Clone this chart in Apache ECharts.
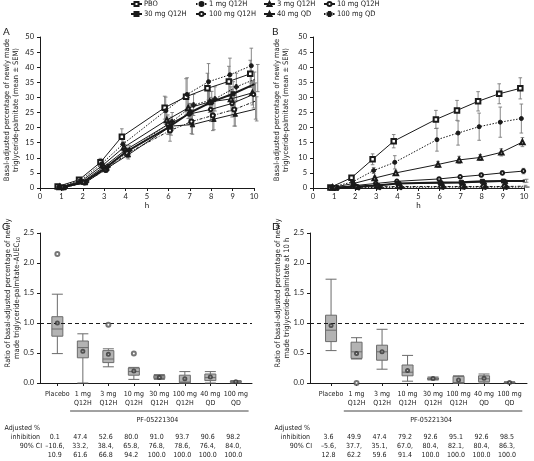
<!DOCTYPE html>
<html><head><meta charset="utf-8">
<script src="https://cdn.jsdelivr.net/npm/echarts@6/dist/echarts.min.js"></script>
<style>html,body{margin:0;padding:0;background:#fff}#c{width:534px;height:461px}</style>
</head><body><div id="c"></div>
<script>
// ---------- DATA ----------
const hours = [1, 2, 3, 4, 6, 7, 8, 9, 10];
const groupNames = ['PBO', '1 mg Q12H', '3 mg Q12H', '10 mg Q12H', '30 mg Q12H', '100 mg Q12H', '40 mg QD', '100 mg QD'];

// Panel A: means
const aPBO   = [0.5, 2.7, 8.5, 17.0, 26.6, 30.2, 33.0, 35.3, 37.8];
const a1mg   = [0.3, 2.4, 8.0, 14.5, 25.6, 31.0, 35.2, 37.5, 40.5];
const a3mg   = [0.3, 2.2, 7.5, 13.5, 22.5, 26.5, 28.5, 29.5, 31.5];
const a10mg  = [0.3, 2.0, 7.0, 12.5, 21.0, 24.5, 26.0, 28.0, 31.0];
const a30mg  = [0.2, 1.9, 6.5, 12.0, 20.2, 25.0, 28.5, 31.2, 34.4];
const a100mg = [0.2, 1.8, 6.0, 11.5, 19.0, 22.0, 24.0, 26.0, 28.8];
const a40qd  = [0.2, 1.8, 6.5, 11.0, 20.5, 21.0, 22.8, 24.5, 26.2];
const a100qd = [0.2, 2.0, 7.0, 12.5, 22.0, 27.5, 29.5, 33.5, 36.4];
// Panel A: SEM
const aPBOse   = [0.2, 0.5, 1.3, 2.6, 3.8, 6.0, 5.0, 5.0, 4.5];
const a1mgse   = [0.2, 0.5, 1.2, 2.2, 4.5, 5.5, 6.0, 5.5, 5.8];
const a3mgse   = [0.2, 0.4, 1.0, 1.8, 3.0, 3.5, 3.5, 4.0, 4.0];
const a10mgse  = [0.1, 0.4, 1.0, 1.8, 3.2, 3.5, 4.0, 4.5, 4.5];
const a30mgse  = [0.1, 0.3, 0.8, 1.5, 2.5, 3.0, 3.5, 4.0, 4.0];
const a100mgse = [0.1, 0.3, 0.8, 1.5, 3.5, 4.0, 5.0, 5.5, 6.0];
const a40qdse  = [0.1, 0.3, 0.8, 1.4, 3.0, 3.2, 3.5, 4.0, 4.0];
const a100qdse = [0.1, 0.3, 0.9, 1.5, 3.0, 3.5, 4.0, 4.5, 4.5];

// Panel B: means
const bPBO   = [0.2, 3.4, 9.5, 15.5, 22.7, 25.7, 28.7, 31.2, 33.0];
const b1mg   = [0.3, 2.0, 5.8, 8.5, 16.0, 18.2, 20.3, 21.8, 23.0];
const b3mg   = [0.2, 1.5, 3.3, 5.0, 7.8, 9.3, 10.1, 11.8, 15.2];
const b10mg  = [0.1, 0.8, 1.5, 2.2, 3.0, 3.7, 4.3, 5.0, 5.6];
const b30mg  = [0.1, 0.5, 0.8, 1.5, 1.8, 1.9, 2.2, 2.3, 2.3];
const b100mg = [0.1, 0.3, 0.4, 0.5, 0.5, 0.5, 0.5, 0.5, 0.6];
const b40qd  = [0.1, 0.4, 0.9, 1.5, 1.6, 1.7, 2.0, 2.2, 2.4];
const b100qd = [0.0, 0.1, 0.2, 0.2, 0.3, 0.3, 0.3, 0.3, 0.3];
// Panel B: SEM
const bPBOse   = [0.1, 0.5, 1.8, 2.2, 3.0, 3.3, 3.2, 3.3, 3.5];
const b1mgse   = [0.1, 0.4, 1.0, 2.2, 3.8, 4.0, 4.5, 5.0, 4.8];
const b3mgse   = [0.1, 0.3, 0.6, 0.6, 1.0, 1.2, 1.0, 1.2, 1.5];
const b10mgse  = [0.05, 0.2, 0.3, 0.4, 0.5, 0.5, 0.6, 0.7, 0.9];
const b30mgse  = [0.05, 0.1, 0.2, 0.3, 0.4, 0.4, 0.5, 0.5, 0.5];
const b100mgse = [0.05, 0.1, 0.1, 0.1, 0.2, 0.2, 0.2, 0.2, 0.3];
const b40qdse  = [0.05, 0.1, 0.2, 0.3, 0.4, 0.4, 0.4, 0.5, 0.5];
const b100qdse = [0.02, 0.05, 0.05, 0.05, 0.1, 0.1, 0.1, 0.1, 0.1];

// Box plot categories
const boxCats = ['Placebo', '1 mg\nQ12H', '3 mg\nQ12H', '10 mg\nQ12H', '30 mg\nQ12H', '100 mg\nQ12H', '40 mg\nQD', '100 mg\nQD'];
// Panel C (AUEC10 ratio)
const cMin  = [0.49, 0.00, 0.27, 0.06, 0.06, 0.00, 0.00, 0.00];
const cQ1   = [0.78, 0.42, 0.34, 0.13, 0.075, 0.005, 0.04, 0.01];
const cMed  = [0.90, 0.59, 0.40, 0.19, 0.10, 0.015, 0.09, 0.02];
const cQ3   = [1.105, 0.70, 0.54, 0.25, 0.125, 0.13, 0.15, 0.03];
const cMax  = [1.48, 0.82, 0.57, 0.26, 0.14, 0.19, 0.19, 0.04];
const cMean = [1.00, 0.53, 0.48, 0.20, 0.09, 0.07, 0.10, 0.02];
const cOutliers = [['Placebo', 2.15], ['3 mg\nQ12H', 0.97], ['10 mg\nQ12H', 0.49]];
// Panel D (ratio at 10 h)
const dMin  = [0.54, 0.40, 0.23, 0.03, 0.05, 0.00, 0.00, 0.00];
const dQ1   = [0.69, 0.41, 0.38, 0.12, 0.06, 0.00, 0.02, 0.005];
const dMed  = [0.88, 0.52, 0.52, 0.18, 0.07, 0.005, 0.07, 0.01];
const dQ3   = [1.13, 0.68, 0.63, 0.30, 0.085, 0.11, 0.12, 0.015];
const dMax  = [1.73, 0.755, 0.895, 0.46, 0.10, 0.12, 0.15, 0.02];
const dMean = [0.96, 0.49, 0.52, 0.21, 0.075, 0.05, 0.08, 0.01];
const dOutliers = [['1 mg\nQ12H', 0.0]];

// Tables
const inhibC = [0.1, 47.4, 52.6, 80.0, 91.0, 93.7, 90.6, 98.2];
const ciLoC  = [-10.6, 33.2, 38.4, 65.8, 76.8, 78.6, 76.4, 84.0];
const ciHiC  = [10.9, 61.6, 66.8, 94.2, 100.0, 100.0, 100.0, 100.0];
const inhibD = [3.6, 49.9, 47.4, 79.2, 92.6, 95.1, 92.6, 98.5];
const ciLoD  = [-5.6, 37.7, 35.1, 67.0, 80.4, 82.1, 80.4, 86.3];
const ciHiD  = [12.8, 62.2, 59.6, 91.4, 100.0, 100.0, 100.0, 100.0];

const tTicks = [0, 10, 1];      // min, max, interval for h axis
const yTicksAB = [0, 50, 5];
const yTicksCD = [0, 2.5, 0.5];

// ---------- STYLE ----------
const F = 'Lato';
const FN = '"Liberation Sans Narrow", "DejaVu Sans Condensed", Lato';
const ink = '#1a1a1a';
const plus = 'path://M2,0h2v2h2v2h-2v2h-2v-2h-2v-2h2z';
const styles = [
  { symbol: 'emptyRect', size: 4.5, type: 'solid', width: 1 },
  { symbol: 'circle', size: 4, type: [1.5, 1.5], width: 1 },
  { symbol: 'emptyTriangle', size: 4.5, type: 'solid', width: 1 },
  { symbol: 'emptyCircle', size: 3.5, type: 'solid', width: 1 },
  { symbol: 'rect', size: 4, type: 'solid', width: 2 },
  { symbol: 'emptyCircle', size: 4, type: [3, 1.5, 1, 1.5], width: 1 },
  { symbol: 'triangle', size: 4.5, type: 'solid', width: 1 },
  { symbol: plus, size: 4.5, type: [1.5, 1.5], width: 1 }
];

const meansA = [aPBO, a1mg, a3mg, a10mg, a30mg, a100mg, a40qd, a100qd];
const semsA = [aPBOse, a1mgse, a3mgse, a10mgse, a30mgse, a100mgse, a40qdse, a100qdse];
const meansB = [bPBO, b1mg, b3mg, b10mg, b30mg, b100mg, b40qd, b100qd];
const semsB = [bPBOse, b1mgse, b3mgse, b10mgse, b30mgse, b100mgse, b40qdse, b100qdse];

function errRender(params, api) {
  const x = api.value(0), lo = api.value(1), hi = api.value(2);
  const p1 = api.coord([x, lo]), p2 = api.coord([x, hi]);
  const w = 1.8;
  const st = { stroke: '#7a7a7a', lineWidth: 0.9 };
  return { type: 'group', children: [
    { type: 'line', shape: { x1: p1[0], y1: p1[1], x2: p2[0], y2: p2[1] }, style: st },
    { type: 'line', shape: { x1: p2[0] - w, y1: p2[1], x2: p2[0] + w, y2: p2[1] }, style: st },
    { type: 'line', shape: { x1: p1[0] - w, y1: p1[1], x2: p1[0] + w, y2: p1[1] }, style: st }
  ]};
}

function timeSeries(ai, means, sems) {
  const out = [];
  groupNames.forEach((name, i) => {
    const st = styles[i];
    const d = (i - 3.5) * 0.05;
    out.push({
      type: 'custom', xAxisIndex: ai, yAxisIndex: ai, z: 1, silent: true, renderItem: errRender,
      encode: { x: 0, y: [1, 2] },
      data: hours.map((h, j) => [h + d, Math.max(0, means[i][j] - sems[i][j]), means[i][j] + sems[i][j]])
    });
    out.push({
      type: 'line', name, xAxisIndex: ai, yAxisIndex: ai, z: 3,
      data: hours.map((h, j) => [h + d, means[i][j]]),
      symbol: st.symbol, symbolSize: st.size, showSymbol: true,
      lineStyle: { color: ink, width: st.width, type: st.type },
      itemStyle: { color: ink, borderColor: ink, borderWidth: 1 },
      emphasis: { disabled: true }
    });
  });
  return out;
}

function boxSeries(ai, mn, q1, md, q3, mx, mean, outl) {
  return [
    { type: 'boxplot', xAxisIndex: ai, yAxisIndex: ai, silent: true, boxWidth: [11, 11],
      data: mn.map((v, i) => [mn[i], q1[i], md[i], q3[i], mx[i]]),
      itemStyle: { color: '#b3b3b3', borderColor: '#6b6b6b', borderWidth: 1 } },
    { type: 'scatter', xAxisIndex: ai, yAxisIndex: ai, silent: true, z: 5, symbol: 'emptyCircle', symbolSize: 3,
      data: mean.map((v, i) => [boxCats[i], v]), itemStyle: { color: '#333', borderWidth: 1 } },
    { type: 'scatter', xAxisIndex: ai, yAxisIndex: ai, silent: true, z: 5, symbol: 'emptyCircle', symbolSize: 4,
      data: outl, itemStyle: { color: '#555', borderWidth: 1 } }
  ];
}

const axisLineS = { show: true, lineStyle: { color: ink, width: 1 } };
const lbl = (m) => ({ fontSize: 7.5, fontFamily: F, color: ink, margin: m });

function hAxis(gi) {
  return { gridIndex: gi, type: 'value', min: tTicks[0], max: tTicks[1], interval: tTicks[2],
    name: 'h', nameLocation: 'middle', nameGap: 13, nameTextStyle: { fontSize: 8, fontFamily: F, color: ink },
    axisLine: axisLineS, axisTick: { show: true, length: 3, lineStyle: { color: ink } },
    axisLabel: lbl(4.5), splitLine: { show: false } };
}
function vAxisAB(gi) {
  return { gridIndex: gi, type: 'value', min: yTicksAB[0], max: yTicksAB[1], interval: yTicksAB[2],
    axisLine: axisLineS, axisTick: { show: true, length: 3, lineStyle: { color: ink } },
    axisLabel: lbl(6), splitLine: { show: false } };
}
function catAxis(gi) {
  return { gridIndex: gi, type: 'category', data: boxCats, axisLine: { show: false },
    axisTick: { show: true, alignWithLabel: true, length: 3, lineStyle: { color: ink } },
    axisLabel: { fontSize: 7, fontFamily: FN, color: ink, margin: 7, lineHeight: 9, interval: 0 },
    splitLine: { show: false } };
}
function helperX(gi) {
  return { gridIndex: gi, type: 'value', min: 0, max: 1, axisLine: axisLineS, axisTick: { show: false },
    axisLabel: { show: false }, splitLine: { show: false } };
}
function ratioAxis(gi, visible) {
  return { gridIndex: gi, type: 'value', min: yTicksCD[0], max: yTicksCD[1], interval: yTicksCD[2], show: visible,
    axisLine: axisLineS, axisTick: { show: true, length: 3, lineStyle: { color: ink } },
    axisLabel: Object.assign(lbl(6), { formatter: v => v.toFixed(1) }), splitLine: { show: false } };
}
function refLine(ai) {
  return { type: 'line', xAxisIndex: ai, yAxisIndex: ai, silent: true, showSymbol: false, data: [[0, -1]],
    markLine: { silent: true, symbol: 'none', label: { show: false }, animation: false,
      lineStyle: { color: ink, type: [4, 3], width: 1 }, data: [{ yAxis: 1 }] } };
}

const legendCols = [[0, 4], [1, 5], [2, 6], [3, 7]];
const legendLeft = [130, 195, 263, 323];

const option = {
  animation: false,
  backgroundColor: '#fff',
  textStyle: { fontFamily: F },
  legend: legendCols.map((c, k) => ({
    orient: 'vertical', left: legendLeft[k], top: 0, padding: 0, itemGap: 2, itemWidth: 11, itemHeight: 5,
    selectedMode: false, data: c.map(i => groupNames[i]),
    textStyle: { fontSize: 7.5, fontFamily: FN, color: ink, padding: [0, 0, 0, -3] }
  })),
  grid: [
    { left: 40, top: 37, width: 214, height: 151 },
    { left: 313, top: 37, width: 211, height: 151 },
    { left: 44.6, top: 233, width: 204, height: 150 },
    { left: 40, top: 233, width: 212, height: 150 },
    { left: 318.3, top: 233, width: 204, height: 150 },
    { left: 310, top: 233, width: 217, height: 150 }
  ],
  xAxis: [hAxis(0), hAxis(1), catAxis(2), helperX(3), catAxis(4), helperX(5)],
  yAxis: [vAxisAB(0), vAxisAB(1), ratioAxis(2, false), ratioAxis(3, true), ratioAxis(4, false), ratioAxis(5, true)],
  series: [].concat(
    timeSeries(0, meansA, semsA),
    timeSeries(1, meansB, semsB),
    boxSeries(2, cMin, cQ1, cMed, cQ3, cMax, cMean, cOutliers),
    boxSeries(4, dMin, dQ1, dMed, dQ3, dMax, dMean, dOutliers),
    [refLine(3), refLine(5)]
  )
};

const chart = echarts.init(document.getElementById('c'), null, { renderer: 'canvas' });
chart.setOption(option);

// ---------- GRAPHIC TEXT ----------
const txt = (text, x, y, o) => ({ type: 'text', x, y, silent: true,
  style: Object.assign({ text, fontSize: 7, fontFamily: FN, fill: ink, align: 'center', verticalAlign: 'middle' }, o || {}) });
const rot = (text, x, y, o) => Object.assign(txt(text, x, y, o), { rotation: Math.PI / 2 });
const fmt = v => (v < 0 ? '\u2013' + Math.abs(v).toFixed(1) : v.toFixed(1));

const g = [];
// panel letters
g.push(txt('A', 3, 32, { fontSize: 10, fontFamily: F, align: 'left' }));
g.push(txt('B', 272, 32, { fontSize: 10, fontFamily: F, align: 'left' }));
g.push(txt('C', 2, 227, { fontSize: 10, fontFamily: F, align: 'left' }));
g.push(txt('D', 272, 227, { fontSize: 10, fontFamily: F, align: 'left' }));
// y titles
[[7, 16], [277, 286]].forEach(p => {
  g.push(rot('Basal-adjusted percentage of newly made', p[0], 110, { fontSize: 7.5 }));
  g.push(rot('triglyceride-palmitate (mean \u00b1 SEM)', p[1], 110, { fontSize: 7.5 }));
});
const rich = { s: { fontSize: 5, fontFamily: FN, fill: ink, verticalAlign: 'bottom', padding: [3, 0, 0, 0] } };
g.push(rot('Ratio of basal-adjusted percentage of newly', 8, 293, { fontSize: 7.5 }));
g.push(rot('made triglyceride-palmitate\u2013AUEC{s|10}', 17, 298, { fontSize: 7.5, rich }));
g.push(rot('Ratio of basal-adjusted percentage of newly', 278, 293, { fontSize: 7.5 }));
g.push(rot('made triglyceride-palmitate at 10 h', 287, 298, { fontSize: 7.5 }));

function tablePanel(ai, labelRight, inhib, lo, hi) {
  const c0 = chart.convertToPixel({ gridIndex: ai }, [0, 0]);
  const c1 = chart.convertToPixel({ gridIndex: ai }, [1, 0]);
  const bw = c1[0] - c0[0];
  const c7 = chart.convertToPixel({ gridIndex: ai }, [7, 0]);
  const x1 = c1[0] - bw / 2, x2 = c7[0] + bw / 2;
  g.push({ type: 'line', silent: true, shape: { x1, y1: 411, x2, y2: 411 }, style: { stroke: '#444', lineWidth: 1 } });
  g.push(txt('PF-05221304', (x1 + x2) / 2 - 2, 420));
  g.push(txt('Adjusted %', labelRight, 428, { align: 'right' }));
  g.push(txt('inhibition', labelRight, 437, { align: 'right' }));
  g.push(txt('90% CI', labelRight + 2, 446, { align: 'right' }));
  inhib.forEach((v, i) => {
    const x = chart.convertToPixel({ gridIndex: ai }, [i, 0])[0] - 2.5;
    g.push(txt(fmt(v), x, 437));
    g.push(txt(fmt(lo[i]) + ',', x, 446));
    g.push(txt(fmt(hi[i]), x, 455));
  });
}
tablePanel(2, 40, inhibC, ciLoC, ciHiC);
tablePanel(4, 310, inhibD, ciLoD, ciHiD);

chart.setOption({ graphic: g });
</script>
</body></html>
